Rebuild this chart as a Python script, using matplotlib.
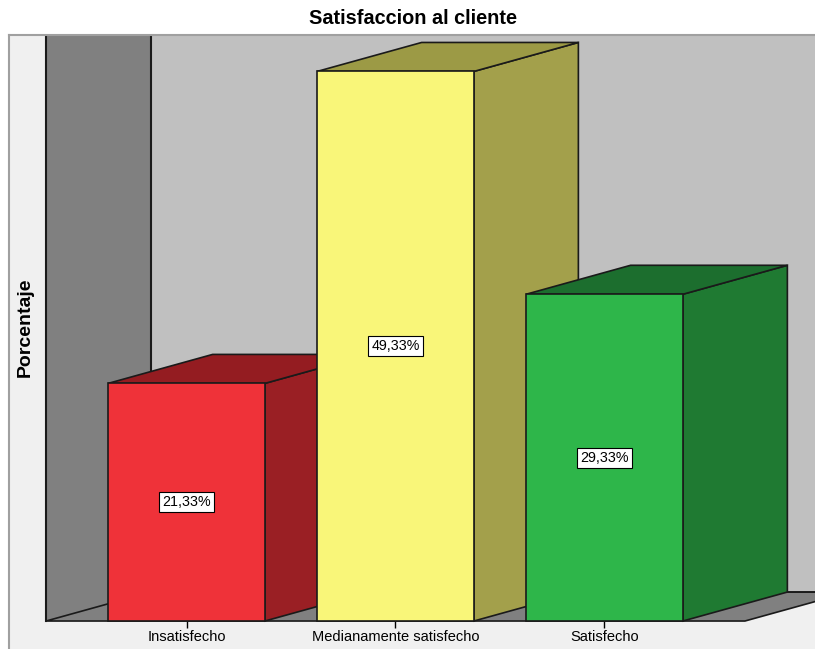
import matplotlib
matplotlib.use("Agg")
import matplotlib.pyplot as plt
from matplotlib.patches import Polygon, Rectangle

categories = ["Insatisfecho", "Medianamente satisfecho", "Satisfecho"]
percentages = [21.33, 49.33, 29.33]
value_labels = ["21,33%", "49,33%", "29,33%"]
front_colors = ["#ef3239", "#f9f679", "#2eb64a"]
side_colors = ["#9a1f24", "#a3a04b", "#1f7a32"]
top_colors = ["#941c21", "#9c9a45", "#1c6e2e"]

plt.rcParams['font.family'] = ['Liberation Sans', 'DejaVu Sans']

BAR_W = 0.75           # bar width in category units
DX, DY = 0.5, 2.6      # oblique depth offset (category units, percent)
Y_MAX = 50
X0, X1 = -0.672, 2.672  # floor front extent
EDGE = '#1a1a1a'

fig = plt.figure(figsize=(8.15, 6.49), dpi=100)
ax = fig.add_axes([9 / 815, 0, 806 / 815, 614 / 649])
ax.set_xlim(-0.8493, 3.0072)
ax.set_ylim(-2.511, Y_MAX + DY)
ax.set_facecolor('#f0f0f0')
ax.set_xticks([])
ax.set_yticks([])
for side in ['right', 'bottom']:
    ax.spines[side].set_visible(False)
for side in ['left', 'top']:
    ax.spines[side].set_color('#a0a0a0')
    ax.spines[side].set_linewidth(1.5)

# back wall, left wall and floor
xr_lim = ax.get_xlim()[1] + 1
ax.add_patch(Rectangle((X0 + DX, DY), xr_lim, Y_MAX, fc='#c0c0c0', ec='none', zorder=1))
ax.add_patch(Polygon([(X0, 0), (X0 + DX, DY), (X0 + DX, Y_MAX + DY), (X0, Y_MAX + DY)],
                     fc='#808080', ec='none', zorder=1))
ax.add_patch(Polygon([(X0, 0), (X1, 0), (X1 + DX, DY), (X0 + DX, DY)],
                     fc='#808080', ec=EDGE, lw=1.2, zorder=1))
ax.plot([X0, X0], [0, Y_MAX + DY], color=EDGE, lw=1.5, zorder=2)
ax.plot([X0 + DX, X0 + DX], [DY, Y_MAX + DY], color=EDGE, lw=1.5, zorder=2)
ax.plot([X0 + DX, xr_lim], [DY, DY], color=EDGE, lw=1.2, zorder=2)

# bars
for i, v in enumerate(percentages):
    xl, xr = i - BAR_W / 2, i + BAR_W / 2
    z = 3 + i
    ax.add_patch(Polygon([(xr, 0), (xr + DX, DY), (xr + DX, v + DY), (xr, v)],
                         fc=side_colors[i], ec=EDGE, lw=1.2, zorder=z))
    ax.add_patch(Polygon([(xl, v), (xr, v), (xr + DX, v + DY), (xl + DX, v + DY)],
                         fc=top_colors[i], ec=EDGE, lw=1.2, zorder=z))
    ax.add_patch(Rectangle((xl, 0), BAR_W, v, fc=front_colors[i], ec=EDGE, lw=1.2, zorder=z))
    ax.text(i, v / 2, value_labels[i], ha='center', va='center', fontsize=10.3, zorder=10,
            bbox=dict(boxstyle='square,pad=0.2', fc='white', ec='black', lw=0.8))

# category ticks and labels
ax.vlines(range(len(categories)), -0.63, 0, color='black', lw=1, zorder=2)
for i, cat in enumerate(categories):
    ax.text(i, -1.45, cat, ha='center', va='center', fontsize=10.5)

fig.text(413 / 815, 1 - 18 / 649, "Satisfaccion al cliente", ha='center', va='center',
         fontsize=14.3, fontweight='bold')
fig.text(25 / 815, 1 - 327 / 649, "Porcentaje", ha='center', va='center', rotation=90,
         fontsize=14, fontweight='bold')

fig.savefig("out.png", dpi=100)
